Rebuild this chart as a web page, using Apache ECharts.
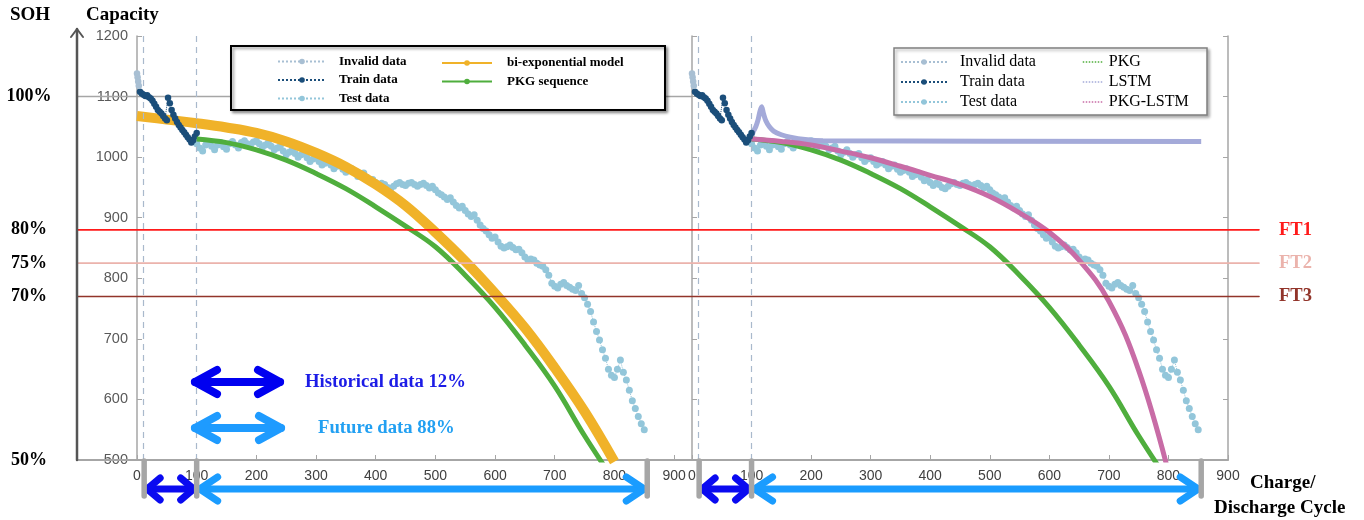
<!DOCTYPE html>
<html><head><meta charset="utf-8">
<script src="https://cdn.jsdelivr.net/npm/echarts@6/dist/echarts.min.js"></script>
<style>html,body{margin:0;padding:0;background:#fff}#c{width:1364px;height:520px}</style>
</head><body><div id="c"></div>
<script>
// ---------- data ----------
const invalidCycles = [0, 1, 2, 3];
const invalidValues = [1138, 1132, 1125, 1118];

const trainCycles = [5,8,11,14,17,20,23,26,29,32,35,38,41,44,47,50,52,55,58,61,64,67,70,73,76,79,82,85,88,91,94,97,100];
const trainValues = [1108,1105,1103,1101,1102,1099,1097,1093,1088,1083,1078,1075,1072,1068,1064,1061,1098,1089,1078,1070,1064,1058,1053,1049,1045,1041,1037,1033,1029,1024,1028,1034,1040];

const testStart = 100, testStep = 5;
const testValues = [
  1022,1015,1010,1020,1025,1018,1012,1020,1024,1017,
  1013,1022,1026,1020,1015,1024,1027,1022,1018,1025,
  1027,1022,1016,1020,1024,1018,1012,1015,1018,1010,
  1004,1008,1012,1006,1000,1004,1006,999,993,997,
  999,993,987,990,993,987,981,985,987,980,
  975,978,981,975,968,971,974,967,961,963,
  958,953,957,955,950,948,952,956,958,955,
  953,957,958,955,952,955,957,953,949,952,
  946,941,938,934,930,933,926,920,916,919,
  912,906,902,905,896,888,882,878,872,866,
  868,860,853,850,852,855,851,847,848,842,
  835,830,832,830,825,822,820,814,805,792,
  787,784,790,793,788,785,782,780,788,775,
  768,757,745,728,712,698,682,668,650,640,
  636,650,665,645,632,615,598,585,572,560,
  550
];

const biExpCycles = [0,50,100,150,200,250,300,350,400,450,500,550,600,650,700,750,800];
const biExpValues = [1068,1062,1056,1049,1040,1026,1007,984,955,920,876,828,775,718,652,580,497];

const pkgCycles = [100,150,200,250,300,350,400,450,500,550,600,650,700,750,800];
const pkgValues = [1030,1024,1012,995,973,948,918,886,852,805,752,690,622,540,465];

const lstmCycles = [100,103,107,111,114,117,120,124,130,137,150,165,190,220,855];
const lstmValues = [1032,1042,1050,1062,1075,1083,1072,1060,1050,1043,1037,1033,1029,1027,1026];

const pkgLstmCycles = [100,150,200,250,300,350,400,450,500,550,600,650,700,750,800];
const pkgLstmValues = [1030,1026,1020,1010,999,985,970,955,935,908,876,830,762,648,480];

const sohLabels = ['100%', '80%', '75%', '70%', '50%'];
const sohCapacity = [1100, 880, 825, 770, 500];
const ftNames = ['FT1', 'FT2', 'FT3'];
const ftCapacity = [880, 825, 770];
const ftColors = ['#FF1A1A', '#EBB3AC', '#92342A'];
const splitCycles = [12, 100, 855];
const markCycles = [10, 100];

// ---------- helpers ----------
const zip = (xs, ys) => xs.map((x, i) => [x, ys[i]]);
const testData = testValues.map((v, i) => [testStart + i * testStep, v]);

const SERIF = '"Liberation Serif", "Times New Roman", serif';
const SANS = '"Liberation Sans", Arial, sans-serif';

const cTest = '#93C6DA', cTrain = '#1B4E7A', cInvalid = '#A8BFD3';
const cOrange = '#F0B229', cGreen = '#4FAE3D', cPink = '#C86CA6', cLav = '#A4AAD9';

function dotSeries(name, data, color, xi, yi, size, extra) {
  return Object.assign({
    name, type: 'line', xAxisIndex: xi, yAxisIndex: yi, data,
    symbol: 'circle', symbolSize: size, showAllSymbol: true,
    itemStyle: { color }, lineStyle: { color, width: 1, type: 'dotted' },
    z: 3
  }, extra || {});
}
function curve(name, data, color, xi, yi, width, smooth, withSym, z) {
  return {
    name, type: 'line', xAxisIndex: xi, yAxisIndex: yi, data,
    symbol: withSym ? 'circle' : 'none', showSymbol: false, smooth,
    itemStyle: { color }, lineStyle: { color, width }, z: z || 4
  };
}
const markL = {
  silent: true, symbol: ['none', 'none'], label: { show: false },
  lineStyle: { type: [6, 5], color: '#A9B9CC', width: 1.2 },
  emphasis: { disabled: true },
  data: markCycles.map(c => ({ xAxis: c }))
};

const xAxisBase = {
  type: 'value', min: 0, interval: 100,
  axisLine: { show: true, onZero: false, lineStyle: { color: '#A6A6A6', width: 2 } },
  axisTick: { show: true, inside: true, length: 5, lineStyle: { color: '#A6A6A6' } },
  axisLabel: { color: '#404040', fontSize: 14, fontFamily: SANS, margin: 9, showMaxLabel: false, formatter: v => String(v) },
  splitLine: { show: false }
};
const yAxisBase = {
  type: 'value', min: 500, max: 1200, interval: 100,
  axisLine: { show: true, lineStyle: { color: '#A6A6A6', width: 1.5 } },
  axisTick: { show: true, inside: true, length: 5, lineStyle: { color: '#A6A6A6' } },
  axisLabel: { show: false },
  splitLine: { show: false }
};

const legendText = (size, weight, padLeft) => ({
  fontFamily: SERIF, fontSize: size, fontWeight: weight, color: '#000', padding: [0, 0, 0, padLeft]
});
const plainIcon = { lineStyle: { type: 'dotted', width: 1.5 }, itemStyle: { opacity: 0 } };

const chart = echarts.init(document.getElementById('c'), null, { renderer: 'canvas' });
chart.setOption({
  animation: false,
  backgroundColor: '#fff',
  grid: [
    { left: 137, top: 36, width: 555, height: 424, outerBoundsMode: 'none', containLabel: false },
    { left: 692, top: 36, width: 536, height: 424, outerBoundsMode: 'none', containLabel: false }
  ],
  xAxis: [
    Object.assign({}, xAxisBase, { gridIndex: 0, max: 930 }),
    Object.assign({}, xAxisBase, { gridIndex: 1, max: 900, axisLabel: Object.assign({}, xAxisBase.axisLabel, { showMaxLabel: true }) })
  ],
  yAxis: [
    Object.assign({}, yAxisBase, { gridIndex: 0, axisLabel: { show: true, color: '#595959', fontSize: 14.5, fontFamily: SANS, margin: 9, formatter: v => String(v) } }),
    Object.assign({}, yAxisBase, { gridIndex: 1 }),
    Object.assign({}, yAxisBase, { gridIndex: 1, position: 'right' })
  ],
  legend: [
    { left: 277, top: 55, orient: 'vertical', padding: 0, itemWidth: 48, itemHeight: 7, itemGap: 5.5,
      selectedMode: false, z: 10, textStyle: legendText(13, 'bold', 8),
      data: ['Invalid data', 'Train data', 'Test data'] },
    { left: 441, top: 56.5, orient: 'vertical', padding: 0, itemWidth: 50, itemHeight: 7, itemGap: 5.5,
      selectedMode: false, z: 10, textStyle: legendText(13, 'bold', 10),
      data: [{ name: 'bi-exponential model', lineStyle: { width: 2 } }, { name: 'PKG sequence', lineStyle: { width: 2 } }] },
    { left: 900, top: 54, orient: 'vertical', padding: 0, itemWidth: 46, itemHeight: 7, itemGap: 4,
      selectedMode: false, z: 10, textStyle: legendText(16, 'normal', 8),
      data: ['Invalid data', 'Train data', 'Test data'] },
    { left: 1082, top: 54, orient: 'vertical', padding: 0, itemWidth: 20, itemHeight: 7, itemGap: 4,
      selectedMode: false, z: 10, textStyle: legendText(16, 'normal', 1),
      data: [
        Object.assign({ name: 'PKG' }, plainIcon),
        Object.assign({ name: 'LSTM' }, plainIcon),
        Object.assign({ name: 'PKG-LSTM' }, plainIcon)
      ] }
  ],
  series: [
    // left chart
    dotSeries('Test data', testData, cTest, 0, 0, 7, { markLine: markL }),
    curve('bi-exponential model', zip(biExpCycles, biExpValues), cOrange, 0, 0, 10, 0.4, true, 4),
    dotSeries('Train data', zip(trainCycles, trainValues), cTrain, 0, 0, 6.5, { z: 5 }),
    dotSeries('Invalid data', zip(invalidCycles, invalidValues), cInvalid, 0, 0, 6.5, { z: 5 }),
    curve('PKG sequence', zip(pkgCycles, pkgValues), cGreen, 0, 0, 5, 0.4, true, 6),
    // right chart
    dotSeries('Test data', testData, cTest, 1, 1, 7, { markLine: markL }),
    curve('LSTM', zip(lstmCycles, lstmValues), cLav, 1, 1, 5, 0.3, false, 4),
    curve('PKG', zip(pkgCycles, pkgValues), cGreen, 1, 1, 5, 0.4, false, 5),
    curve('PKG-LSTM', zip(pkgLstmCycles, pkgLstmValues), cPink, 1, 1, 5, 0.4, false, 6),
    dotSeries('Train data', zip(trainCycles, trainValues), cTrain, 1, 1, 6.5, { z: 7 }),
    dotSeries('Invalid data', zip(invalidCycles, invalidValues), cInvalid, 1, 1, 6.5, { z: 7 })
  ]
});

// ---------- annotations (positioned through the axes) ----------
const P = (g, x, y) => chart.convertToPixel({ xAxisIndex: g, yAxisIndex: g }, [x, y]);
const els = [];
function line(x1, y1, x2, y2, stroke, w, z) {
  els.push({ type: 'line', silent: true, z: z || 20, shape: { x1, y1, x2, y2 },
    style: { stroke, lineWidth: w, lineCap: 'round' } });
}
function poly(points, stroke, w, z) {
  els.push({ type: 'polyline', silent: true, z: z || 20, shape: { points },
    style: { stroke, lineWidth: w, lineCap: 'round', lineJoin: 'round', fill: null } });
}
function text(t, x, y, font, fill, align) {
  els.push({ type: 'text', silent: true, z: 25, x, y,
    style: { text: t, font, fill, align: align || 'left', verticalAlign: 'middle' } });
}
function dblArrow(x1, x2, y, color, w, hl, h, z) {
  line(x1, y, x2, y, color, w, z);
  poly([[x1 + hl, y - h], [x1, y], [x1 + hl, y + h]], color, w, z);
  poly([[x2 - hl, y - h], [x2, y], [x2 - hl, y + h]], color, w, z);
}

const y500 = P(0, 0, 500)[1];
const xL0 = P(0, 0, 500)[0];
const xR0 = P(1, 0, 500)[0];
const axisX = 77;

// legend boxes
els.push({ type: 'rect', silent: true, z: 3, shape: { x: 231, y: 46, width: 434, height: 64 },
  style: { fill: '#fff', stroke: '#000', lineWidth: 2, shadowBlur: 3, shadowOffsetX: 2, shadowOffsetY: 2, shadowColor: 'rgba(0,0,0,0.4)' } });
els.push({ type: 'rect', silent: true, z: 3, shape: { x: 894, y: 48, width: 313, height: 67 },
  style: { fill: '#fff', stroke: '#808080', lineWidth: 1.5, shadowBlur: 3, shadowOffsetX: 2, shadowOffsetY: 2, shadowColor: 'rgba(0,0,0,0.3)' } });

// SOH axis with arrow
line(axisX, y500, axisX, 29, '#555555', 2.5);
poly([[axisX - 6, 37], [axisX, 29], [axisX + 6, 37]], '#555555', 2);
line(axisX, y500, xL0, y500, '#A6A6A6', 2, 1);
// 100% line
const y1100 = P(0, 0, 1100)[1];
line(axisX, y1100, xR0, y1100, '#A6A6A6', 1.5, 1);
// FT lines
ftCapacity.forEach((v, i) => {
  const y = P(0, 0, v)[1];
  line(axisX, y, 1259, y, ftColors[i], 1.6, 8);
  text(ftNames[i], 1279, y, 'bold 18.5px ' + SERIF, ftColors[i]);
});
// SOH labels
sohLabels.forEach((t, i) => text(t, 29, P(0, 0, sohCapacity[i])[1], 'bold 18px ' + SERIF, '#000', 'center'));
text('SOH', 30, 15, 'bold 19px ' + SERIF, '#000', 'center');
text('Capacity', 86, 15, 'bold 19px ' + SERIF, '#000');
text('Charge/', 1250, 483, 'bold 19px ' + SERIF, '#000');
text('Discharge Cycle', 1214, 508, 'bold 19px ' + SERIF, '#000');

// middle annotation arrows
dblArrow(195, 280, 382, '#0000F0', 8, 22, 12);
text('Historical data 12%', 305, 382, 'bold 18.7px ' + SERIF, '#1C1CE6');
dblArrow(195, 281, 428, '#1E9BFF', 8, 22, 12);
text('Future data 88%', 318, 428, 'bold 18.7px ' + SERIF, '#22A0F2');

// bottom split arrows for both charts
[0, 1].forEach(g => {
  const xs = splitCycles.map(c => P(g, c, 500)[0]);
  dblArrow(xs[0] + 3, xs[1] - 3, 489, '#0A0AF0', 7, 13, 11, 18);
  dblArrow(xs[1] + 3, xs[2] - 3, 489, '#1A9CFF', 7, 18, 12, 18);
  xs.forEach(x => line(x, y500 + 1, x, 496, '#A6A6A6', 5.5, 22));
});

chart.setOption({ graphic: { elements: els } });
</script>
</body></html>
